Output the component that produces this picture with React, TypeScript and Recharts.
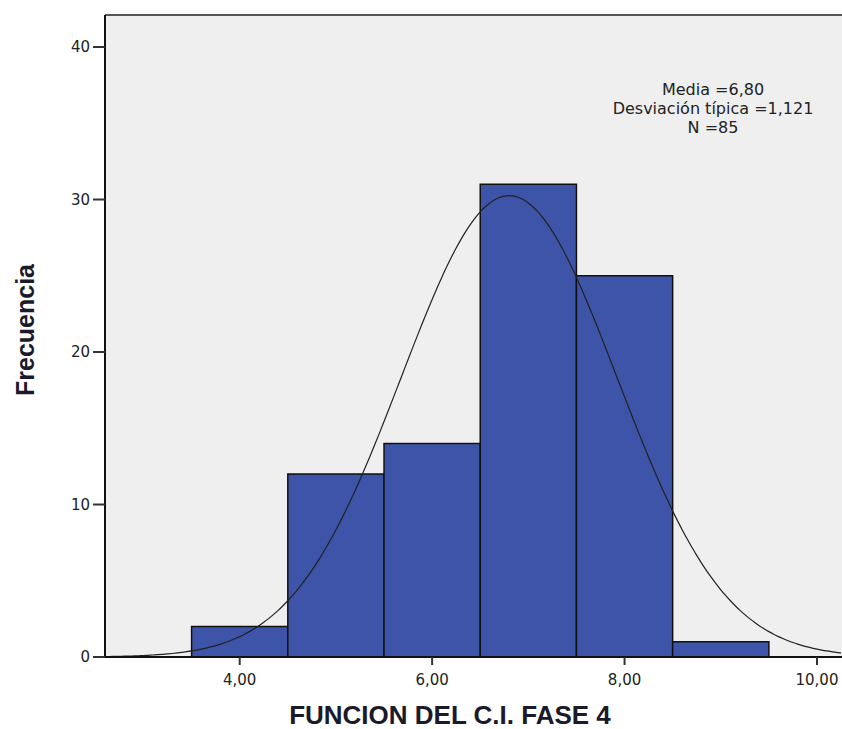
import { ComposedChart, Line, XAxis, YAxis, ReferenceArea, ReferenceLine, CartesianGrid } from 'recharts';

// histogram bins (centre of each bin) and their counts
const binCenters = [4, 5, 6, 7, 8, 9];
const counts = [2, 12, 14, 31, 25, 1];
const binWidth = 1;

// summary statistics printed in the plot
const mean = 6.8;
const stdDev = 1.121;
const total = 85;

const xTicks = [4, 6, 8, 10];
const yTicks = [0, 10, 20, 30, 40];
const xDomain = [2.6, 10.26];
const yMax = 42.1;

// fitted normal curve, scaled to the histogram counts
const curve: { x: number; y: number }[] = [];
for (let x = xDomain[0]; x <= xDomain[1] + 1e-9; x += 0.05) {
  const z = (x - mean) / stdDev;
  const y = (total * binWidth * Math.exp(-0.5 * z * z)) / (stdDev * Math.sqrt(2 * Math.PI));
  curve.push({ x: +x.toFixed(2), y });
}

const fmt = (v: number, d: number) => v.toFixed(d).replace('.', ',');

const tickFont = { fill: '#222', fontSize: 15, fontFamily: 'DejaVu Sans, sans-serif' };

const App = () => {
  return (
    <div style={{ position: 'absolute', left: 0, top: 0, width: 842, height: 729, background: '#fff' }}>
      <ComposedChart width={842} height={729} data={curve} margin={{ top: 15, right: 0, left: 0, bottom: 0 }}>
        <CartesianGrid horizontal={false} vertical={false} fill="#efefef" />
        {binCenters.map((c, i) => (
          <ReferenceArea
            key={c}
            x1={c - binWidth / 2}
            x2={c + binWidth / 2}
            y1={0}
            y2={counts[i]}
            fill="#3d54a8"
            fillOpacity={1}
            stroke="#111"
            strokeWidth={1.5}
            ifOverflow="visible"
          />
        ))}
        <ReferenceLine y={yMax} stroke="#555" strokeWidth={2} ifOverflow="visible" />
        <XAxis
          type="number"
          dataKey="x"
          domain={xDomain}
          ticks={xTicks}
          allowDataOverflow
          height={72}
          tickFormatter={(v) => fmt(v, 2)}
          tick={tickFont}
          tickSize={8}
          tickMargin={9}
          axisLine={{ stroke: '#111', strokeWidth: 2 }}
          tickLine={{ stroke: '#333', strokeWidth: 2 }}
        />
        <YAxis
          type="number"
          domain={[0, yMax]}
          ticks={yTicks}
          allowDataOverflow
          width={105}
          tick={tickFont}
          tickSize={12}
          tickMargin={3}
          axisLine={{ stroke: '#111', strokeWidth: 2 }}
          tickLine={{ stroke: '#333', strokeWidth: 2 }}
        />
        <Line
          type="monotone"
          dataKey="y"
          stroke="#222"
          strokeWidth={1.2}
          dot={false}
          activeDot={false}
          isAnimationActive={false}
        />
      </ComposedChart>

      <div
        style={{
          position: 'absolute',
          left: 603,
          top: 80,
          width: 220,
          textAlign: 'center',
          fontFamily: 'DejaVu Sans, sans-serif',
          fontSize: 16,
          lineHeight: '19px',
          color: '#222',
        }}
      >
        <div>Media ={fmt(mean, 2)}</div>
        <div>Desviación típica ={fmt(stdDev, 3)}</div>
        <div>N ={total}</div>
      </div>

      <div
        style={{
          position: 'absolute',
          left: 250,
          top: 700,
          width: 400,
          textAlign: 'center',
          fontFamily: 'Liberation Sans, Arial, sans-serif',
          fontWeight: 'bold',
          fontSize: 26,
          color: '#1a1a2a',
          whiteSpace: 'nowrap',
        }}
      >
        FUNCION DEL C.I. FASE 4
      </div>

      <div
        style={{
          position: 'absolute',
          left: 25,
          top: 330,
          transform: 'translate(-50%, -50%) rotate(-90deg)',
          fontFamily: 'Liberation Sans, Arial, sans-serif',
          fontWeight: 'bold',
          fontSize: 25,
          color: '#1a1a2a',
          whiteSpace: 'nowrap',
        }}
      >
        Frecuencia
      </div>
    </div>
  );
};

export default App;
